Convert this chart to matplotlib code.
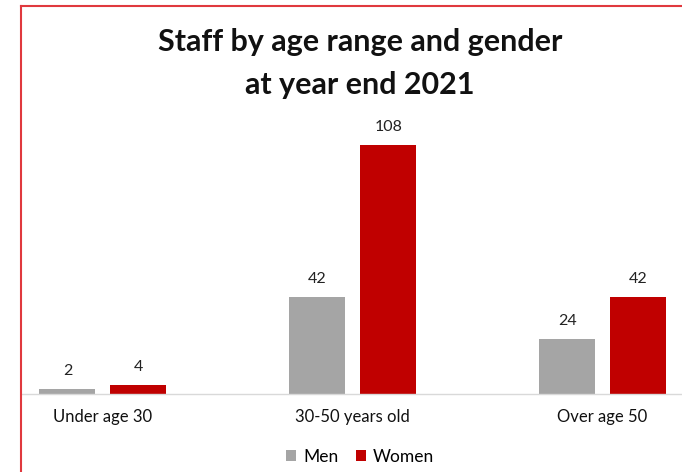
"""Staff by age range and gender, year end 2021."""

import matplotlib.pyplot as plt
from matplotlib.lines import Line2D
import numpy as np

categories = ["Under age 30", "30-50 years old", "Over age 50"]
men = [2, 42, 24]
women = [4, 108, 42]

plt.rcParams["font.family"] = ["Lato", "DejaVu Sans"]

W, H = 682, 472
fig = plt.figure(figsize=(W / 100, H / 100), dpi=100)

# axes: baseline at y=394px, left edge at the red frame
ax = fig.add_axes([21 / W, 1 - 394 / H, 1 - 21 / W, (394 - 110) / H])
x = np.arange(len(categories))
width = 0.224
off = 0.142
b1 = ax.bar(x - off, men, width, color="#A5A5A5", label="Men")
b2 = ax.bar(x + off, women, width, color="#C00000", label="Women")
for bars in (b1, b2):
    for rect in bars:
        ax.annotate(
            f"{rect.get_height():g}",
            (rect.get_x() + rect.get_width() / 2, rect.get_height()),
            xytext=(0, 8),
            textcoords="offset points",
            ha="center",
            va="bottom",
            fontsize=11.5,
            color="#222222",
        )

ax.set_xlim(-0.328, 2.318)
ax.set_ylim(0, (394 - 110) / 2.306)
ax.set_yticks([])
ax.set_xticks(x)
ax.set_xticklabels(categories, fontsize=12, color="#111111")
ax.tick_params(axis="x", length=0, pad=11)
for side in ("top", "right", "left"):
    ax.spines[side].set_visible(False)
ax.spines["bottom"].set_color("#D9D9D9")
ax.spines["bottom"].set_linewidth(1)
ax.patch.set_alpha(0)

fig.text(360 / W, 1 - 42 / H, "Staff by age range and gender",
         ha="center", va="center", fontsize=22, fontweight="bold", color="#111111")
fig.text(360 / W, 1 - 85 / H, "at year end 2021",
         ha="center", va="center", fontsize=22, fontweight="bold", color="#111111")

fig.legend(
    handles=[b1, b2],
    loc="center",
    bbox_to_anchor=(360 / W, 1 - 457 / H),
    ncol=2,
    frameon=False,
    fontsize=12.5,
    handlelength=0.6,
    handleheight=0.6,
    handletextpad=0.4,
    columnspacing=1.0,
)

# red frame on top and left
fig.add_artist(Line2D([21 / W, 21 / W], [0, 1 - 6 / H], color="#E0393E", lw=1.5))
fig.add_artist(Line2D([21 / W, 1], [1 - 6 / H, 1 - 6 / H], color="#E0393E", lw=1.5))

fig.savefig("out.png", dpi=100)
